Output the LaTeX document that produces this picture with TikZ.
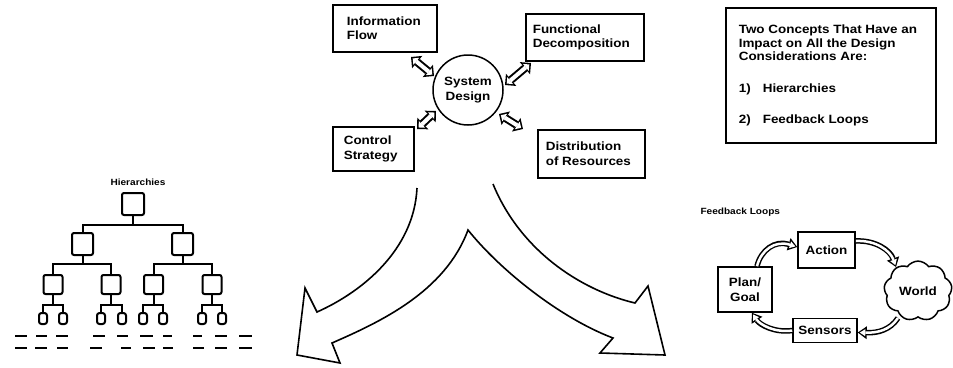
\documentclass[tikz,border=0pt]{standalone}
\usepackage{fontspec}
\newfontfamily\lbl{Liberation Sans}[FakeStretch=1.12]
\usetikzlibrary{arrows.meta,shapes.symbols}
\newcommand\bx{\lbl\bfseries\fontsize{12}{14.5}\selectfont}
\newcommand\sx{\lbl\bfseries\fontsize{9}{10}\selectfont}
\newcommand\hollow[3]{\draw[#1] #3; \draw[#2] #3;}
\begin{document}
\begin{tikzpicture}[x=1pt,y=-1pt,
  box/.style={draw, line width=1.6pt, anchor=north west, inner ysep=0pt, align=flush left, font=\bx},
  lbox/.style={draw, line width=1.6pt, anchor=center, inner sep=0pt, align=center, font=\bx},
  hbox/.style={draw, line width=2pt, rounded corners=2pt, inner sep=0pt},
  leaf/.style={draw, line width=2pt, rounded corners=2.5pt, inner sep=0pt, minimum width=8pt, minimum height=11pt},
  tree/.style={line width=2pt},
  dbo/.style={line width=8pt, {Triangle[width=16pt,length=8pt,line width=0pt]}-{Triangle[width=16pt,length=8pt,line width=0pt]}},
  dbi/.style={white, line width=4pt, shorten <=2.2pt, shorten >=2.2pt, {Triangle[width=9pt,length=4.6pt,line width=0pt]}-{Triangle[width=9pt,length=4.6pt,line width=0pt]}},
  lpo/.style={line width=5.5pt, -{Triangle[width=13pt,length=9pt,line width=0pt]}},
  lpi/.style={white, line width=2.5pt, shorten >=2pt, -{Triangle[width=7pt,length=5.5pt,line width=0pt]}},
  bigarrow/.style={line width=1.6pt, line join=miter}
]
\useasboundingbox (0,0) rectangle (953,367);

% ---- System design cluster
\node[box, text width=76pt, inner xsep=14pt, minimum height=47pt] (info) at (332,4) {Information\\Flow};
\node[box, text width=104pt, inner xsep=7pt, minimum height=47pt] (func) at (525,13) {Functional\\Decomposition};
\node[box, text width=59pt, inner xsep=11pt, minimum height=44pt] (ctrl) at (332,126) {Control\\Strategy};
\node[box, text width=91pt, inner xsep=8pt, minimum height=48pt] (dist) at (537,129) {Distribution\\of Resources};
\node[draw, circle, line width=1.5pt, minimum size=70pt, inner sep=0pt, align=center, font=\bx] (sd) at (468,90) {System\\Design};

\coordinate (i1) at (411,57);  \coordinate (i2) at (434,76);
\coordinate (f1) at (531,63);  \coordinate (f2) at (505,85);
\coordinate (c1) at (417,129); \coordinate (c2) at (436,111);
\coordinate (d1) at (499,114); \coordinate (d2) at (523,129);
\hollow{dbo}{dbi}{(i1) -- (i2)}
\hollow{dbo}{dbi}{(f1) -- (f2)}
\hollow{dbo}{dbi}{(c1) -- (c2)}
\hollow{dbo}{dbi}{(d1) -- (d2)}

% ---- concepts box
\node[box, text width=184pt, inner xsep=13pt, minimum height=135pt, font=\lbl\bfseries\fontsize{12}{13.5}\selectfont] (concepts) at (725,7)
 {Two Concepts That Have an\\Impact on All the Design\\Considerations Are:\\[18pt]\makebox[24pt][l]{1)}Hierarchies\\[17.5pt]\makebox[24pt][l]{2)}Feedback Loops};

% ---- big split arrow
\draw[bigarrow] (417,188) .. controls (414,250) and (362,292) .. (317,312)
  -- (305,288) -- (297,355) -- (340,363) -- (332,343)
  .. controls (380,322) and (445,292) .. (468,230)
  .. controls (500,270) and (560,318) .. (613,338)
  -- (600,353) -- (665,355) -- (648,286) -- (635,303)
  .. controls (580,290) and (520,250) .. (493,184);

% ---- hierarchy
\node[font=\sx] (hl) at (138,182) {Hierarchies};
\node[hbox, minimum width=22pt, minimum height=22pt] (h0) at (133,204) {};
\node[hbox, minimum width=21pt, minimum height=22pt] (ha) at (82.5,244) {};
\node[hbox, minimum width=21pt, minimum height=22pt] (hb) at (182.5,244) {};
\node[hbox, minimum width=19pt, minimum height=19pt] (haa) at (53,284.5) {};
\node[hbox, minimum width=19pt, minimum height=19pt] (hab) at (111,284.5) {};
\node[hbox, minimum width=19pt, minimum height=19pt] (hba) at (153.5,284.5) {};
\node[hbox, minimum width=19pt, minimum height=19pt] (hbb) at (212,284.5) {};
\foreach \p/\x in {haa/43,haa/63,hab/101,hab/122,hba/143,hba/163,hbb/202,hbb/222}{
  \node[leaf] (\p-\x) at (\x,318.5) {};
  \draw[tree] (\p.south) -- ++(0,10) -| (\p-\x.north);
}
\foreach \c in {ha,hb} \draw[tree] (h0.south) -- ++(0,9) -| (\c.north);
\foreach \c in {haa,hab} \draw[tree] (ha.south) -- ++(0,8) -| (\c.north);
\foreach \c in {hba,hbb} \draw[tree] (hb.south) -- ++(0,8) -| (\c.north);
\foreach \a/\b in {15/27,36/47,56/68,93/105,117/128,140/153,163/172,193/202,215/227,239/252}
  \draw[tree] (\a,336) -- (\b,336);
\foreach \a/\b in {15/27,35/47,57/68,90/102,121/131,143/155,163/173,193/204,215/227,239/252}
  \draw[tree] (\a,348) -- (\b,348);

% ---- feedback loop
\node[font=\sx, anchor=west] (fl) at (697,212) {Feedback Loops};
\node[lbox, minimum width=57pt, minimum height=36pt] (act) at (826.5,250) {Action};
\node[lbox, minimum width=64pt, minimum height=24pt] (sen) at (825,330.5) {Sensors};
\node[lbox, minimum width=54pt, minimum height=45pt] (plan) at (745,289.5) {Plan/\\Goal};
\node[cloud, draw, line width=1.5pt, cloud puffs=9, cloud puff arc=110, minimum width=68pt, minimum height=58pt, inner sep=0pt, font=\bx] (world) at (918,291) {World};
\coordinate (wt) at (896,267);
\coordinate (wb) at (898,318);
\hollow{lpo}{lpi}{([xshift=12pt]plan.north) .. controls (761,250) and (775,240) .. ([yshift=3pt]act.west)}
\hollow{lpo}{lpi}{([yshift=9pt]act.east) .. controls (875,240) and (890,250) .. (wt)}
\hollow{lpo}{lpi}{(wb) .. controls (890,330) and (878,333) .. ([yshift=-2pt]sen.east)}
\hollow{lpo}{lpi}{(sen.west) .. controls (775,333) and (760,325) .. ([xshift=7pt]plan.south)}
\end{tikzpicture}
\end{document}
